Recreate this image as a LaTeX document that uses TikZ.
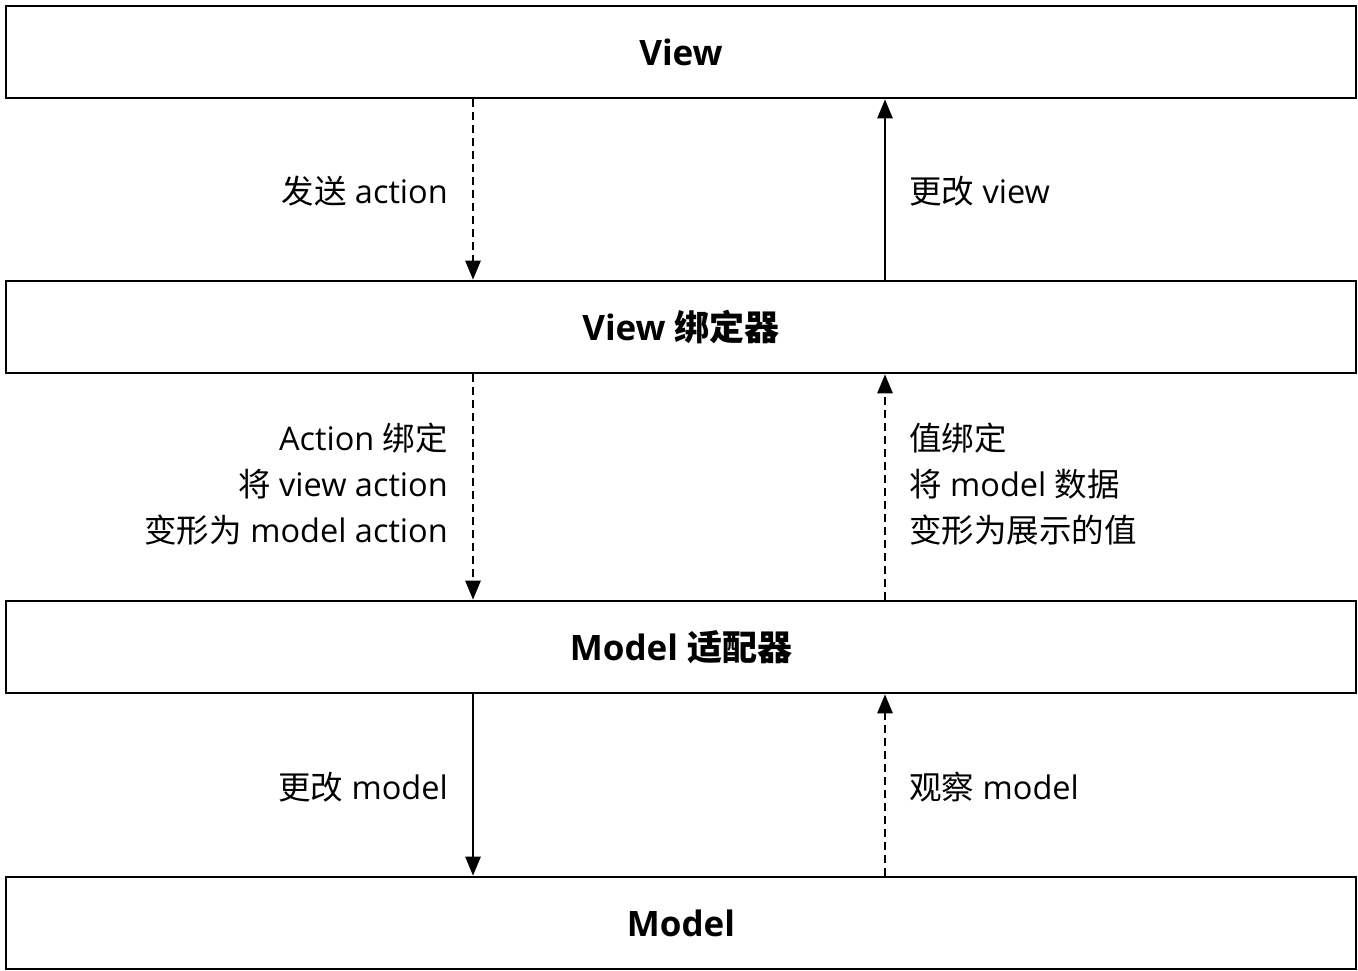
\documentclass[tikz,border=0pt]{standalone}
\usepackage{fontspec}
\setmainfont{Open Sans}
\newfontfamily\cjk{Noto Sans CJK SC}
\usetikzlibrary{arrows.meta,calc}
\begin{document}
\begin{tikzpicture}[x=1pt,y=-1pt,
  layer/.style={draw,line width=2.6pt,minimum width=1350pt,minimum height=92pt,inner sep=0pt,
    font=\fontsize{35}{40}\selectfont\bfseries},
  lbl/.style={inner sep=0pt,font=\fontsize{32.5}{46}\selectfont},
  lblL/.style={lbl,anchor=east,align=right},
  lblR/.style={lbl,anchor=west,align=left},
  arr/.style={line width=2.6pt,-{Triangle[length=19pt,width=15pt]}},
  dasharr/.style={arr,dash pattern=on 8pt off 5pt},
]
\useasboundingbox (0,0) rectangle (1358,971);
\node[layer] (view) at (681,52) {View};
\node[layer] (vb) at (681,327) {View {\cjk 绑定器}};
\node[layer] (ma) at (681,647) {Model {\cjk 适配器}};
\node[layer] (model) at (681,923) {Model};
\coordinate (L) at (473,0);
\coordinate (R) at (885,0);
\draw[dasharr] (view.south -| L) -- (vb.north -| L);
\draw[arr] (vb.north -| R) -- (view.south -| R);
\draw[dasharr] (vb.south -| L) -- (ma.north -| L);
\draw[dasharr] (ma.north -| R) -- (vb.south -| R);
\draw[arr] (ma.south -| L) -- (model.north -| L);
\draw[dasharr] (model.north -| R) -- (ma.south -| R);
\node[lblL] (l1) at (448,191) {{\cjk 发送} action};
\node[lblR] (r1) at (909,191) {{\cjk 更改} view};
\node[lblL] (l2) at (448,484) {Action {\cjk 绑定}\\{\cjk 将} view action\\{\cjk 变形为} model action};
\node[lblR] (r2) at (909,484) {{\cjk 值绑定}\\{\cjk 将} model {\cjk 数据}\\{\cjk 变形为展示的值}};
\node[lblL] (l3) at (448,787) {{\cjk 更改} model};
\node[lblR] (r3) at (909,787) {{\cjk 观察} model};
\end{tikzpicture}
\end{document}
